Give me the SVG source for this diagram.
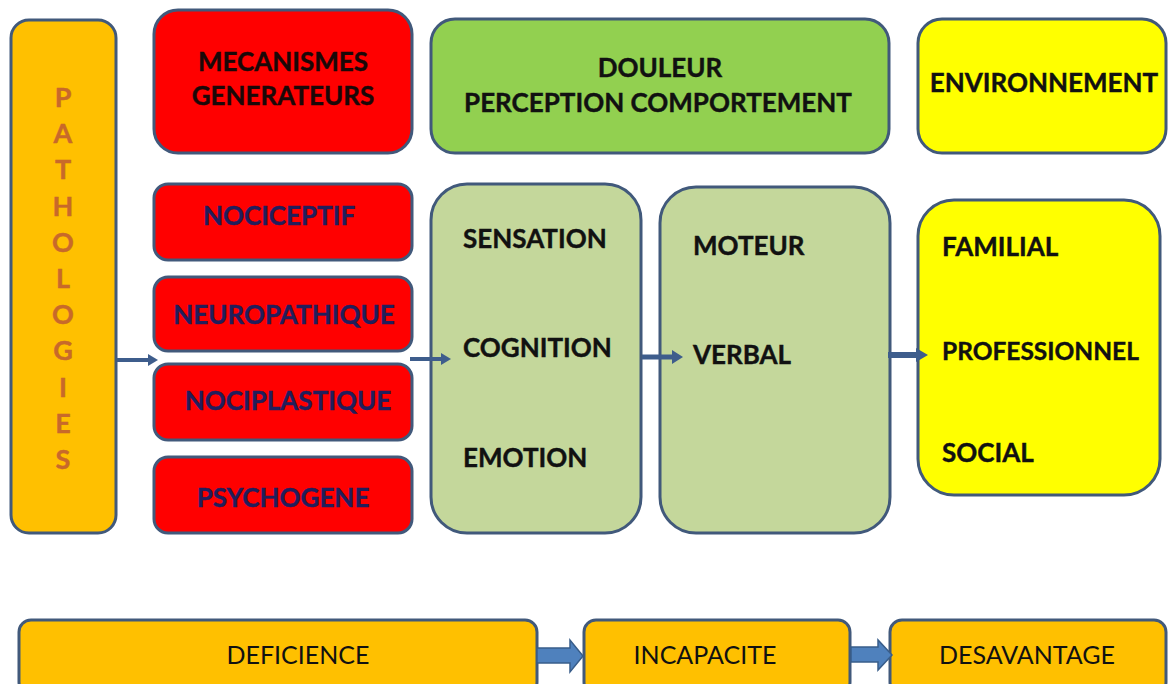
<svg xmlns="http://www.w3.org/2000/svg" width="1169" height="684" viewBox="0 0 1169 684">
<style>
.box{stroke:#41597b;stroke-width:3}
.or{fill:#FFC000}
.red{fill:#FF0000}
.grn{fill:#92D050}
.lg{fill:#C4D79B}
.yel{fill:#FFFF00}
text{font-family:Lato,"Open Sans","Liberation Sans",sans-serif;font-weight:bold;font-size:26px;fill:#111;stroke:#111;stroke-width:0.4}
.c{text-anchor:middle}
.navy{fill:#211e5c;stroke:#211e5c}
.dk{fill:#1a0808;stroke:#1a0808}
.pat{fill:#C8692A;stroke:#C8692A;text-anchor:middle;font-size:27px}
.reg{font-weight:normal;font-size:25px;stroke:none}
.ln{stroke:#3e5d8c;fill:none}
.ah{fill:#3e5d8c}
.blk{fill:#4F81BD;stroke:#385D8A;stroke-width:1.5}
</style>
<rect width="1169" height="684" fill="#ffffff"/>
<g id="pathologies">
<rect class="box or" x="11" y="20" width="105" height="513" rx="18"/>
<text class="pat" x="63" y="107">P</text>
<text class="pat" x="63" y="143">A</text>
<text class="pat" x="63" y="179">T</text>
<text class="pat" x="63" y="216">H</text>
<text class="pat" x="63" y="252">O</text>
<text class="pat" x="63" y="288">L</text>
<text class="pat" x="63" y="324">O</text>
<text class="pat" x="63" y="360">G</text>
<text class="pat" x="63" y="397">I</text>
<text class="pat" x="63" y="433">E</text>
<text class="pat" x="63" y="469">S</text>
</g>
<g id="mecanismes">
<rect class="box red" x="154" y="10" width="258" height="143" rx="24"/>
<text class="c dk" x="283" y="71">MECANISMES</text>
<text class="c dk" x="283" y="105">GENERATEURS</text>
</g>
<g id="douleur">
<rect class="box grn" x="431" y="19" width="458" height="134" rx="24"/>
<text class="c" x="660" y="77">DOULEUR</text>
<text class="c" x="658" y="112">PERCEPTION COMPORTEMENT</text>
</g>
<g id="environnement">
<rect class="box yel" x="918" y="19" width="248" height="134" rx="24"/>
<text class="c" x="1044" y="92">ENVIRONNEMENT</text>
</g>
<g id="nociceptif">
<rect class="box red" x="154" y="184" width="258" height="76" rx="14"/>
<text class="c navy" x="279" y="225">NOCICEPTIF</text>
</g>
<g id="neuropathique">
<rect class="box red" x="154" y="277" width="258" height="74" rx="14"/>
<text class="c navy" x="284" y="324">NEUROPATHIQUE</text>
</g>
<g id="nociplastique">
<rect class="box red" x="154" y="364" width="258" height="76" rx="14"/>
<text class="c navy" x="288" y="410">NOCIPLASTIQUE</text>
</g>
<g id="psychogene">
<rect class="box red" x="154" y="457" width="258" height="76" rx="14"/>
<text class="c navy" x="283" y="507">PSYCHOGENE</text>
</g>
<g id="perception">
<rect class="box lg" x="431" y="184" width="210" height="349" rx="36"/>
<text x="463" y="248">SENSATION</text>
<text x="463" y="357">COGNITION</text>
<text x="463" y="467">EMOTION</text>
</g>
<g id="comportement">
<rect class="box lg" x="660" y="187" width="230" height="346" rx="36"/>
<text x="693" y="255">MOTEUR</text>
<text x="693" y="364">VERBAL</text>
</g>
<g id="milieu">
<rect class="box yel" x="918" y="200" width="242" height="295" rx="36"/>
<text x="942" y="256">FAMILIAL</text>
<text x="942" y="360" style="font-size:24.5px">PROFESSIONNEL</text>
<text x="942" y="462">SOCIAL</text>
</g>
<g id="deficience">
<rect class="box or" x="19" y="620" width="518" height="74" rx="12"/>
<text class="c reg" x="298" y="664">DEFICIENCE</text>
</g>
<g id="incapacite">
<rect class="box or" x="584" y="620" width="266" height="74" rx="12"/>
<text class="c reg" x="705" y="664">INCAPACITE</text>
</g>
<g id="desavantage">
<rect class="box or" x="890" y="620" width="276" height="74" rx="12"/>
<text class="c reg" x="1027" y="664">DESAVANTAGE</text>
</g>
<g id="connectors">
<line class="ln" x1="117" y1="360" x2="150" y2="360" stroke-width="4"/>
<polygon class="ah" points="148,354 158,360 148,366"/>
<line class="ln" x1="410" y1="359" x2="443" y2="359" stroke-width="4"/>
<polygon class="ah" points="441,353 451,359 441,365"/>
<line class="ln" x1="642" y1="357" x2="674" y2="357" stroke-width="5"/>
<polygon class="ah" points="672,350 683,357 672,364"/>
<line class="ln" x1="888" y1="355" x2="918" y2="355" stroke-width="6"/>
<polygon class="ah" points="916,348 928,355 916,362"/>
<polygon class="blk" points="537,648 570,648 570,640 583,656 570,672 570,663 537,663"/>
<polygon class="blk" points="851,647 878,647 878,640 892,655 878,670 878,662 851,662"/>
</g>
</svg>
